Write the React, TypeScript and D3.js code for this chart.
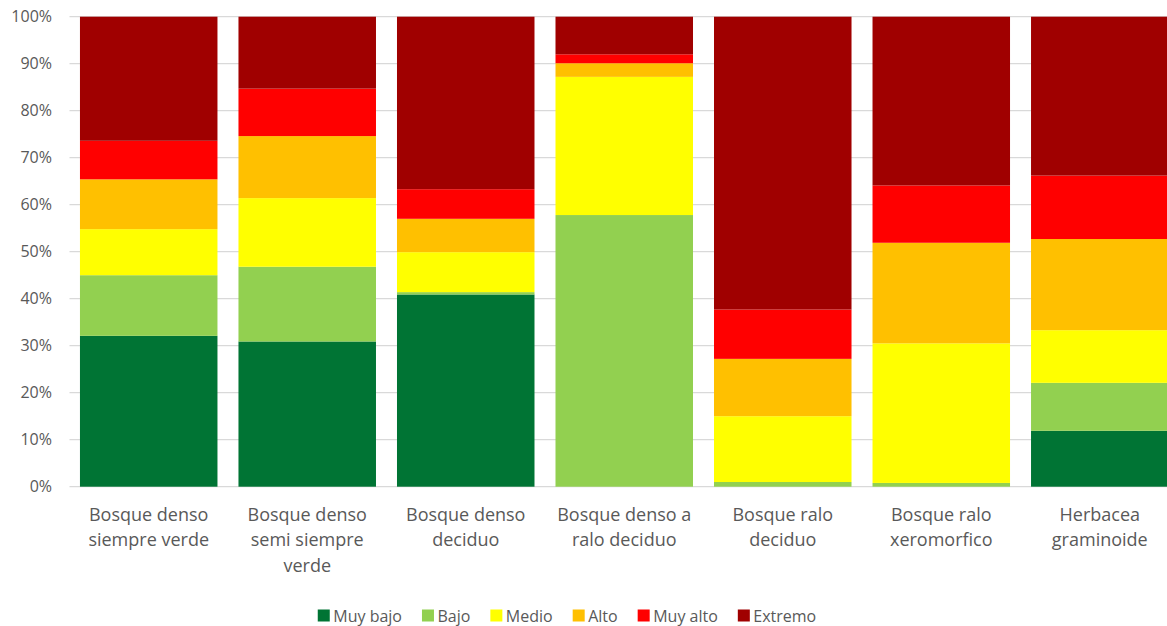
import React, { useEffect, useRef } from "react";
import * as d3 from "d3";

const categories = [
  "Bosque denso siempre verde",
  "Bosque denso semi siempre verde",
  "Bosque denso deciduo",
  "Bosque denso a ralo deciduo",
  "Bosque ralo deciduo",
  "Bosque ralo xeromorfico",
  "Herbacea graminoide",
];

const seriesNames = ["Muy bajo", "Bajo", "Medio", "Alto", "Muy alto", "Extremo"];

const muyBajo = [32.1, 30.9, 40.9, 0, 0, 0, 11.9];
const bajo = [12.9, 15.9, 0.5, 57.8, 1.0, 0.8, 10.2];
const medio = [9.8, 14.6, 8.5, 29.4, 14.0, 29.7, 11.2];
const alto = [10.6, 13.2, 7.1, 2.9, 12.2, 21.4, 19.4];
const muyAlto = [8.2, 10.1, 6.3, 1.9, 10.5, 12.2, 13.5];
const extremo = [26.4, 15.3, 36.7, 8.0, 62.3, 35.9, 33.8];

const yTicks = [0, 10, 20, 30, 40, 50, 60, 70, 80, 90, 100];

const colors = ["#007434", "#92D050", "#FFFF00", "#FFC000", "#FF0000", "#A00000"];

const W = 1167;
const H = 626;
const FONT = "'Open Sans', 'Noto Sans', sans-serif";
const TEXT = "#595959";

export default function App() {
  const ref = useRef<SVGSVGElement | null>(null);

  useEffect(() => {
    const svg = d3.select(ref.current);
    svg.selectAll("*").remove();

    const values = [muyBajo, bajo, medio, alto, muyAlto, extremo];
    const rows = categories.map((c, i) => {
      const r: Record<string, any> = { category: c };
      seriesNames.forEach((s, k) => (r[s] = values[k][i]));
      return r;
    });

    const x = d3
      .scaleBand<string>()
      .domain(categories)
      .range([69.5, 1179])
      .paddingInner(0.1325)
      .paddingOuter(0.066);
    const y = d3.scaleLinear().domain([0, 100]).range([486.7, 16.7]);

    // grid
    svg
      .append("g")
      .selectAll("line")
      .data(yTicks)
      .join("line")
      .attr("x1", 69.5)
      .attr("x2", 1179)
      .attr("y1", (d) => y(d))
      .attr("y2", (d) => y(d))
      .attr("stroke", "#d9d9d9")
      .attr("stroke-width", 1.3);

    // y tick labels
    svg
      .append("g")
      .selectAll("text")
      .data(yTicks)
      .join("text")
      .attr("x", 52)
      .attr("y", (d) => y(d))
      .attr("dy", "0.36em")
      .attr("text-anchor", "end")
      .attr("font-family", FONT)
      .attr("font-size", 16)
      .attr("fill", TEXT)
      .text((d) => `${d}%`);

    // stacked bars
    const stacked = d3.stack<any>().keys(seriesNames)(rows);
    svg
      .append("g")
      .selectAll("g")
      .data(stacked)
      .join("g")
      .attr("fill", (_, i) => colors[i])
      .selectAll("rect")
      .data((s) => s)
      .join("rect")
      .attr("x", (d: any) => x(d.data.category)!)
      .attr("width", x.bandwidth())
      .attr("y", (d) => y(d[1]))
      .attr("height", (d) => Math.max(0, y(d[0]) - y(d[1])));

    // category labels, wrapped to the band width
    const maxW = 145;
    const labels = svg.append("g");
    categories.forEach((c) => {
      const t = labels
        .append("text")
        .attr("text-anchor", "middle")
        .attr("font-family", FONT)
        .attr("font-size", 18)
        .attr("fill", TEXT);
      const cx = x(c)! + x.bandwidth() / 2;
      const words = c.split(" ");
      const lines: string[] = [];
      let cur = "";
      const probe = t.append("tspan");
      words.forEach((w) => {
        const cand = cur ? cur + " " + w : w;
        probe.text(cand);
        const len = (probe.node() as SVGTSpanElement).getComputedTextLength();
        if (len > maxW && cur) {
          lines.push(cur);
          cur = w;
        } else {
          cur = cand;
        }
      });
      if (cur) lines.push(cur);
      probe.remove();
      lines.forEach((ln, i) => {
        t.append("tspan")
          .attr("x", cx)
          .attr("y", 520.5 + i * 25.6)
          .text(ln);
      });
    });

    // legend
    const legend = svg.append("g");
    const items = seriesNames.map((s, i) => {
      const g = legend.append("g");
      g.append("rect")
        .attr("width", 12)
        .attr("height", 12)
        .attr("y", 609.5)
        .attr("fill", colors[i]);
      const tx = g
        .append("text")
        .attr("x", 15.5)
        .attr("y", 621.5)
        .attr("font-family", FONT)
        .attr("font-size", 16)
        .attr("fill", TEXT)
        .text(s);
      const w = 15.5 + (tx.node() as SVGTextElement).getComputedTextLength();
      return { g, w };
    });
    const gap = 20;
    const total = d3.sum(items, (d) => d.w) + gap * (items.length - 1);
    let cx = 567 - total / 2;
    items.forEach((it) => {
      it.g.attr("transform", `translate(${cx},0)`);
      cx += it.w + gap;
    });
  }, []);

  return (
    <svg
      ref={ref}
      width={W}
      height={H}
      style={{ position: "absolute", left: 0, top: 0, background: "#fff" }}
    />
  );
}
